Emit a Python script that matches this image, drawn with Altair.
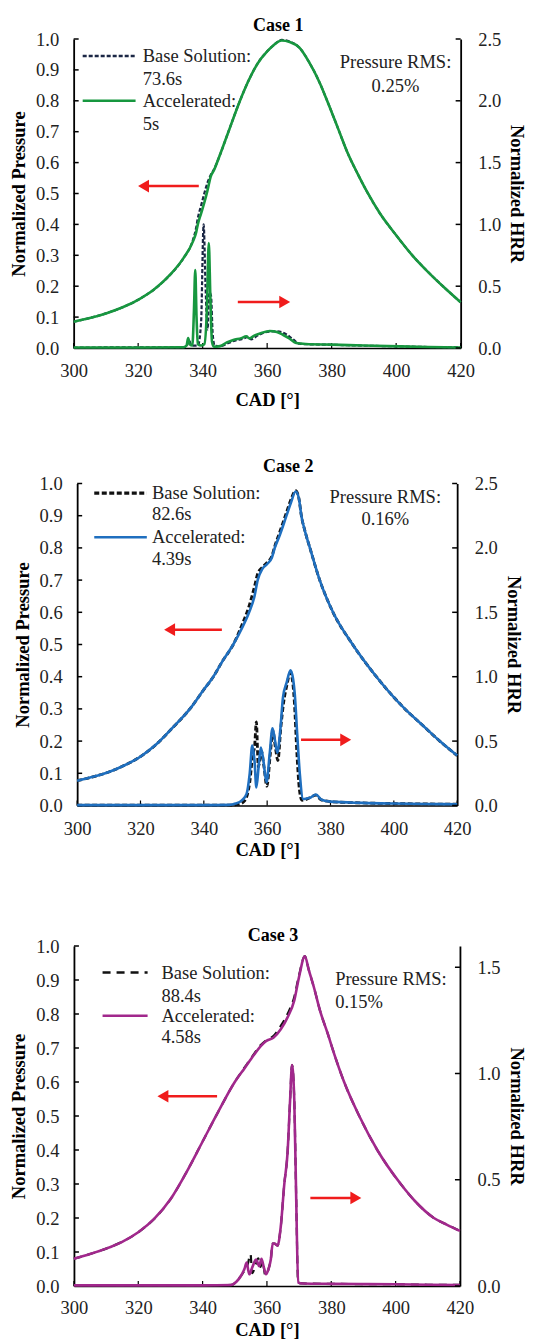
import altair as alt
import pandas as pd

FONT = "Liberation Serif"
X_TICKS = [300, 320, 340, 360, 380, 400, 420]
P_TICKS = [0.0, 0.1, 0.2, 0.3, 0.4, 0.5, 0.6, 0.7, 0.8, 0.9, 1.0]

# ---------------- Case 1 ----------------
c1_p_cad = [300, 305, 310, 315, 320, 325, 330, 334, 337, 338, 338.5, 339.5, 340.5, 341.5, 342.5, 343.5,
            345, 348, 351, 354, 357, 360, 362, 364.5, 367, 370, 373, 376, 379, 382, 385, 388, 391, 395,
            400, 405, 410, 415, 420]
c1_p_acc = [0.085, 0.097, 0.112, 0.131, 0.156, 0.19, 0.238, 0.29, 0.345, 0.375, 0.40, 0.435, 0.47, 0.51,
            0.555, 0.575, 0.615, 0.70, 0.785, 0.86, 0.92, 0.96, 0.98, 0.995, 0.99, 0.972, 0.925, 0.865,
            0.79, 0.71, 0.63, 0.565, 0.505, 0.435, 0.365, 0.30, 0.245, 0.195, 0.148]
c1_p_base = [0.085, 0.097, 0.112, 0.131, 0.156, 0.19, 0.238, 0.29, 0.35, 0.39, 0.42, 0.46, 0.50, 0.535,
             0.56, 0.578, 0.615, 0.70, 0.785, 0.86, 0.92, 0.96, 0.98, 0.997, 0.992, 0.972, 0.925, 0.865,
             0.79, 0.71, 0.63, 0.565, 0.505, 0.435, 0.365, 0.30, 0.245, 0.195, 0.148]
c1_h_acc_cad = [300, 320, 334, 335, 335.5, 336, 336.8, 337.3, 337.7, 338.1, 338.5, 339.5, 340.5, 341.3,
                341.9, 342.4, 342.9, 343.5, 345.4, 347.5, 349.5, 352, 353.5, 354.5, 356, 358, 360.8, 363,
                365, 367, 369, 372, 380, 390, 401, 410, 420]
c1_h_acc = [0.004, 0.004, 0.006, 0.02, 0.08, 0.03, 0.02, 0.3, 0.63, 0.25, 0.03, 0.02, 0.03, 0.3, 0.85, 0.4,
            0.05, 0.01, 0.015, 0.045, 0.065, 0.08, 0.095, 0.078, 0.1, 0.12, 0.138, 0.13, 0.105, 0.075,
            0.04, 0.032, 0.027, 0.02, 0.013, 0.008, 0.004]
c1_h_base_cad = [300, 334, 335, 335.8, 336.5, 338.5, 339.5, 340.3, 340.9, 341.5, 342.1, 342.6, 343.1,
                 343.7, 345.5, 348, 350, 352.5, 354, 355, 357, 360, 363, 366, 368, 370, 373, 380, 390,
                 401, 410, 420]
c1_h_base = [0.004, 0.006, 0.015, 0.06, 0.02, 0.02, 0.2, 1.0, 0.5, 0.15, 0.45, 0.42, 0.12, 0.02, 0.015,
             0.04, 0.06, 0.075, 0.09, 0.07, 0.1, 0.13, 0.135, 0.11, 0.07, 0.035, 0.03, 0.026, 0.019,
             0.013, 0.008, 0.004]

# ---------------- Case 2 ----------------
c2_p_cad = [300, 305, 310, 315, 320, 325, 330, 335.6, 340, 343, 346, 349.3, 352, 354.3, 356, 357,
            358.5, 360, 361.5, 362.4, 364, 366.1, 367.5, 369, 370, 370.8, 372, 373.5, 376.6, 380.8, 387,
            394.5, 403.5, 409, 414.5, 420]
c2_p_acc = [0.077, 0.089, 0.104, 0.125, 0.152, 0.19, 0.24, 0.30, 0.36, 0.40, 0.45, 0.50, 0.55, 0.60,
            0.65, 0.70, 0.735, 0.75, 0.77, 0.80, 0.84, 0.90, 0.94, 0.975, 0.955, 0.90, 0.85, 0.80, 0.70,
            0.60, 0.50, 0.40, 0.30, 0.25, 0.20, 0.155]
c2_p_base = [0.077, 0.089, 0.104, 0.125, 0.152, 0.19, 0.24, 0.30, 0.36, 0.40, 0.45, 0.50, 0.56, 0.62,
             0.68, 0.72, 0.74, 0.755, 0.775, 0.805, 0.85, 0.91, 0.95, 0.978, 0.955, 0.90, 0.85, 0.80, 0.70,
             0.60, 0.50, 0.40, 0.30, 0.25, 0.20, 0.155]
c2_h_acc_cad = [300, 340, 348, 350, 352, 353.5, 354.5, 355.3, 356, 356.6, 357.3, 358, 358.8, 359.8, 360.8,
                361.7, 362.5, 363.2, 364.2, 365, 366.1, 367.4, 368.2, 368.7, 369.5, 370.3, 371.4, 372.5,
                373.5, 375.4, 377.2, 380, 390, 400, 410, 420]
c2_h_acc = [0.003, 0.003, 0.005, 0.015, 0.04, 0.09, 0.25, 0.466, 0.35, 0.14, 0.3, 0.45, 0.35, 0.18, 0.4,
            0.6, 0.5, 0.41, 0.6, 0.84, 0.95, 1.05, 0.98, 0.87, 0.55, 0.25, 0.05, 0.055, 0.06, 0.085, 0.045,
            0.03, 0.02, 0.015, 0.012, 0.01]
c2_h_base_cad = [300, 348, 351, 353, 354.5, 355.5, 356, 356.6, 357.2, 358.2, 359, 359.9, 361, 361.8,
                 362.6, 363.4, 364.3, 365.2, 366.2, 367.3, 368.1, 368.6, 369.4, 370.2, 371, 372.5, 373.5,
                 375.3, 377, 380, 390, 400, 410, 420]
c2_h_base = [0.003, 0.003, 0.008, 0.04, 0.18, 0.40, 0.45, 0.65, 0.3, 0.42, 0.3, 0.15, 0.4, 0.58, 0.45,
             0.35, 0.6, 0.8, 0.93, 1.03, 0.95, 0.8, 0.4, 0.12, 0.04, 0.05, 0.06, 0.08, 0.045, 0.03, 0.02,
             0.015, 0.012, 0.01]

# ---------------- Case 3 ----------------
c3_p_cad = [300, 305, 310, 315, 320, 325, 330, 335, 340, 345, 350, 353, 354.5, 356, 358, 359.7, 362, 364.3,
            366.4, 368.5, 370, 371.8, 373, 374.7, 376.5, 378.8, 381, 384, 388.7, 394.3, 401.6, 406, 411.9,
            416, 420]
c3_p_acc = [0.08, 0.094, 0.11, 0.13, 0.158, 0.198, 0.255, 0.335, 0.425, 0.515, 0.60, 0.64, 0.66, 0.68, 0.705,
            0.72, 0.73, 0.755, 0.79, 0.84, 0.91, 0.97, 0.93, 0.875, 0.81, 0.745, 0.68, 0.60, 0.50, 0.40,
            0.30, 0.25, 0.20, 0.18, 0.162]
c3_p_base = [0.08, 0.094, 0.11, 0.13, 0.158, 0.198, 0.255, 0.335, 0.425, 0.515, 0.60, 0.642, 0.662, 0.683,
             0.708, 0.722, 0.735, 0.765, 0.80, 0.85, 0.915, 0.97, 0.93, 0.875, 0.81, 0.745, 0.68, 0.60, 0.50,
             0.40, 0.30, 0.25, 0.20, 0.18, 0.162]
c3_h_acc_cad = [300, 340, 348.8, 350.5, 351.9, 353, 353.7, 354.5, 355.5, 356.6, 357.6, 358.3, 359, 359.7,
                360.5, 361.2, 361.8, 362.3, 363.3, 364.3, 365.4, 366.4, 367.2, 367.8, 368.5, 369.1, 369.7,
                371, 380, 390, 400, 410, 420]
c3_h_acc = [0.003, 0.003, 0.005, 0.02, 0.047, 0.08, 0.11, 0.055, 0.09, 0.125, 0.094, 0.128, 0.09, 0.055,
            0.08, 0.125, 0.2, 0.2, 0.19, 0.28, 0.48, 0.625, 0.875, 1.04, 0.875, 0.41, 0.016, 0.012, 0.01,
            0.009, 0.008, 0.006, 0.005]
c3_h_base_cad = [300, 340, 349, 351, 352.5, 354, 354.9, 355.4, 356.5, 357.3, 358, 358.6, 359.5, 360.5,
                 361.2, 361.8, 362.3, 363.3, 364.3, 365.4, 366.4, 367.2, 367.8, 368.5, 369.1, 369.7, 371,
                 380, 390, 400, 410, 420]
c3_h_base = [0.003, 0.003, 0.005, 0.03, 0.06, 0.1, 0.15, 0.06, 0.1, 0.13, 0.09, 0.12, 0.05, 0.08, 0.125,
             0.2, 0.2, 0.19, 0.28, 0.48, 0.625, 0.875, 1.04, 0.875, 0.41, 0.016, 0.012, 0.01, 0.009,
             0.008, 0.006, 0.005]

CASES = [
    dict(title="Case 1", color="#17973f", base_color="#1b2745", dash=[4, 2], base_w=2.2,
         p_cad=c1_p_cad, p_acc=c1_p_acc, p_base=c1_p_base,
         ha_cad=c1_h_acc_cad, ha=c1_h_acc, hb_cad=c1_h_base_cad, hb=c1_h_base,
         hmax=2.5, h_ticks=[0.0, 0.5, 1.0, 1.5, 2.0, 2.5],
         base_time="73.6s", acc_time="5s", rms="0.25%",
         leg_x=[302.8, 319.2], leg_text_x=321.4, leg_y=[0.945, 0.87, 0.80, 0.725],
         rms_x=399.8, rms_y=[0.926, 0.848], rms_align="center",
         arrow_l=[338.8, 319.8, 0.524], arrow_r=[350.9, 367.3, 0.149],
         width=387, height=309, title_dx=11, title_dy=4.5, lab_pad=13.5, xt_pad=10),
    dict(title="Case 2", color="#1f6fbf", base_color="#111111", dash=[5, 2.5], base_w=2.8,
         p_cad=c2_p_cad, p_acc=c2_p_acc, p_base=c2_p_base,
         ha_cad=c2_h_acc_cad, ha=c2_h_acc, hb_cad=c2_h_base_cad, hb=c2_h_base,
         hmax=2.5, h_ticks=[0.0, 0.5, 1.0, 1.5, 2.0, 2.5],
         base_time="82.6s", acc_time="4.39s", rms="0.16%",
         leg_x=[305.4, 322.0], leg_text_x=323.6, leg_y=[0.97, 0.904, 0.833, 0.766],
         rms_x=397.3, rms_y=[0.957, 0.89], rms_align="center",
         arrow_l=[345.7, 327.3, 0.546], arrow_r=[370.7, 386.7, 0.204],
         width=380, height=322, title_dx=21, title_dy=1.5, lab_pad=14, xt_pad=2),
    dict(title="Case 3", color="#a1288c", base_color="#111111", dash=[8, 6], base_w=2.2,
         p_cad=c3_p_cad, p_acc=c3_p_acc, p_base=c3_p_base,
         ha_cad=c3_h_acc_cad, ha=c3_h_acc, hb_cad=c3_h_base_cad, hb=c3_h_base,
         hmax=1.6, h_ticks=[0.0, 0.5, 1.0, 1.5],
         base_time="88.4s", acc_time="4.58s", rms="0.15%",
         leg_x=[308.9, 322.9], leg_text_x=327.2, leg_y=[0.922, 0.853, 0.795, 0.731],
         rms_x=381.2, rms_y=[0.903, 0.834], rms_align="left",
         arrow_l=[344.5, 325.8, 0.558], arrow_r=[373.5, 389.5, 0.259],
         width=386, height=340, title_dx=6, title_dy=7.5, lab_pad=12, xt_pad=4),
]

RED = "#f01c1c"
TXT = 18.5
LW = 2.6


def make_panel(c):
    px_per_cad = c["width"] / 120.0
    xenc = alt.X("cad:Q", scale=alt.Scale(domain=[300, 420], nice=False, zero=False),
                 axis=alt.Axis(title="CAD [°]", values=X_TICKS, format="d", ticks=False, tickSize=0,
                               grid=False, labelFlush=False, labelPadding=c["lab_pad"],
                               titlePadding=c["xt_pad"], domainColor="black", domainWidth=1.6))
    yp = alt.Y("p:Q", scale=alt.Scale(domain=[0, 1], nice=False),
               axis=alt.Axis(title="Normalized Pressure", orient="left", values=P_TICKS, format=".1f",
                             ticks=False, tickSize=0, grid=False, labelPadding=15, titlePadding=7,
                             domainColor="black", domainWidth=1.8))
    yh = alt.Y("h:Q", scale=alt.Scale(domain=[0, c["hmax"]], nice=False),
               axis=alt.Axis(title="Normalized HRR", orient="right", values=c["h_ticks"], format=".1f",
                             ticks=False, tickSize=0, grid=False, labelPadding=17, titlePadding=6,
                             domainColor="black", domainWidth=1.8))

    p_df = pd.DataFrame({"cad": c["p_cad"], "p_acc": c["p_acc"], "p_base": c["p_base"]})
    pb = alt.Chart(p_df.rename(columns={"p_base": "p"})).mark_line(
        color=c["base_color"], strokeDash=c["dash"], strokeWidth=c["base_w"],
        interpolate="monotone").encode(x=xenc, y=yp)
    pa = alt.Chart(p_df.rename(columns={"p_acc": "p"})).mark_line(
        color=c["color"], strokeWidth=LW, interpolate="monotone").encode(x=xenc, y=yp)

    # inward ticks
    tick_len_cad = 5 / px_per_cad
    lt = pd.DataFrame({"cad": [300] * len(P_TICKS), "cad2": [300 + tick_len_cad] * len(P_TICKS), "p": P_TICKS})
    left_ticks = alt.Chart(lt).mark_rule(color="black", strokeWidth=1.5).encode(
        x=xenc, x2="cad2:Q", y=yp)
    bt = pd.DataFrame({"cad": X_TICKS, "p": [0] * len(X_TICKS), "p2": [5 / c["height"]] * len(X_TICKS)})
    bottom_ticks = alt.Chart(bt).mark_rule(color="black", strokeWidth=1.2).encode(
        x=xenc, y=yp, y2="p2:Q")

    # legend
    lx, ly = c["leg_x"], c["leg_y"]
    lr_base = alt.Chart(pd.DataFrame({"cad": [lx[0]], "cad2": [lx[1]], "p": [ly[0]]})).mark_rule(
        color=c["base_color"], strokeDash=c["dash"], strokeWidth=c["base_w"] + 0.3).encode(x=xenc, x2="cad2:Q", y=yp)
    lr_acc = alt.Chart(pd.DataFrame({"cad": [lx[0]], "cad2": [lx[1]], "p": [ly[2]]})).mark_rule(
        color=c["color"], strokeWidth=LW).encode(x=xenc, x2="cad2:Q", y=yp)
    leg_txt = pd.DataFrame({"cad": [c["leg_text_x"]] * 4, "p": ly,
                            "t": ["Base Solution:", c["base_time"], "Accelerated:", c["acc_time"]]})
    leg_text = alt.Chart(leg_txt).mark_text(align="left", baseline="middle", font=FONT, fontSize=TXT,
                                            color="#222222").encode(x=xenc, y=yp, text="t:N")
    rms_df = pd.DataFrame({"cad": [c["rms_x"]] * 2, "p": c["rms_y"], "t": ["Pressure RMS:", c["rms"]]})
    rms_text = alt.Chart(rms_df).mark_text(align=c["rms_align"], baseline="middle", font=FONT, fontSize=TXT,
                                           color="#222222").encode(x=xenc, y=yp, text="t:N")

    # arrows
    head = 6 / px_per_cad
    al, ar = c["arrow_l"], c["arrow_r"]
    arr_df = pd.DataFrame({"cad": [al[0], ar[0]], "cad2": [al[1] + head, ar[1] - head], "p": [al[2], ar[2]]})
    arr_rules = alt.Chart(arr_df).mark_rule(color=RED, strokeWidth=2.5).encode(x=xenc, x2="cad2:Q", y=yp)
    head_l = alt.Chart(pd.DataFrame({"cad": [al[1] + head], "p": [al[2]]})).mark_point(
        shape="triangle-left", filled=True, color=RED, size=160, opacity=1).encode(x=xenc, y=yp)
    head_r = alt.Chart(pd.DataFrame({"cad": [ar[1] - head], "p": [ar[2]]})).mark_point(
        shape="triangle-right", filled=True, color=RED, size=160, opacity=1).encode(x=xenc, y=yp)

    left = alt.layer(pb, pa, left_ticks, bottom_ticks, lr_base, lr_acc, leg_text, rms_text,
                     arr_rules, head_l, head_r)

    hb_df = pd.DataFrame({"cad": c["hb_cad"], "h": c["hb"]})
    ha_df = pd.DataFrame({"cad": c["ha_cad"], "h": c["ha"]})
    hb = alt.Chart(hb_df).mark_line(color=c["base_color"], strokeDash=c["dash"],
                                    strokeWidth=c["base_w"], interpolate="monotone").encode(x=xenc, y=yh)
    ha = alt.Chart(ha_df).mark_line(color=c["color"], strokeWidth=LW,
                                    interpolate="monotone").encode(x=xenc, y=yh)
    rt = pd.DataFrame({"cad": [420 - tick_len_cad] * len(c["h_ticks"]), "cad2": [420] * len(c["h_ticks"]),
                       "h": c["h_ticks"]})
    right_ticks = alt.Chart(rt).mark_rule(color="black", strokeWidth=1.5).encode(x=xenc, x2="cad2:Q", y=yh)
    right = alt.layer(hb, ha, right_ticks)

    return alt.layer(left, right).resolve_scale(y="independent").properties(
        width=c["width"], height=c["height"],
        title=alt.TitleParams(text=c["title"], font=FONT, fontSize=18, fontWeight="bold", color="black",
                              anchor="middle", frame="group", dx=c["title_dx"], dy=c["title_dy"], offset=0))


p1, p2, p3 = [make_panel(c) for c in CASES]

chart = alt.vconcat(
    alt.vconcat(p1, p2, spacing=48.5, center=True),
    p3, spacing=67, center=True,
).properties(
    padding={"left": 1, "top": 8, "right": 2, "bottom": 2}
).configure_view(stroke=None).configure_axis(
    labelFont=FONT, labelFontSize=18.5, labelColor="#222222",
    titleFont=FONT, titleFontSize=18.5, titleFontWeight="bold", titleColor="black",
)

chart.save("out.html", embed_options={"renderer": "svg", "actions": False})
